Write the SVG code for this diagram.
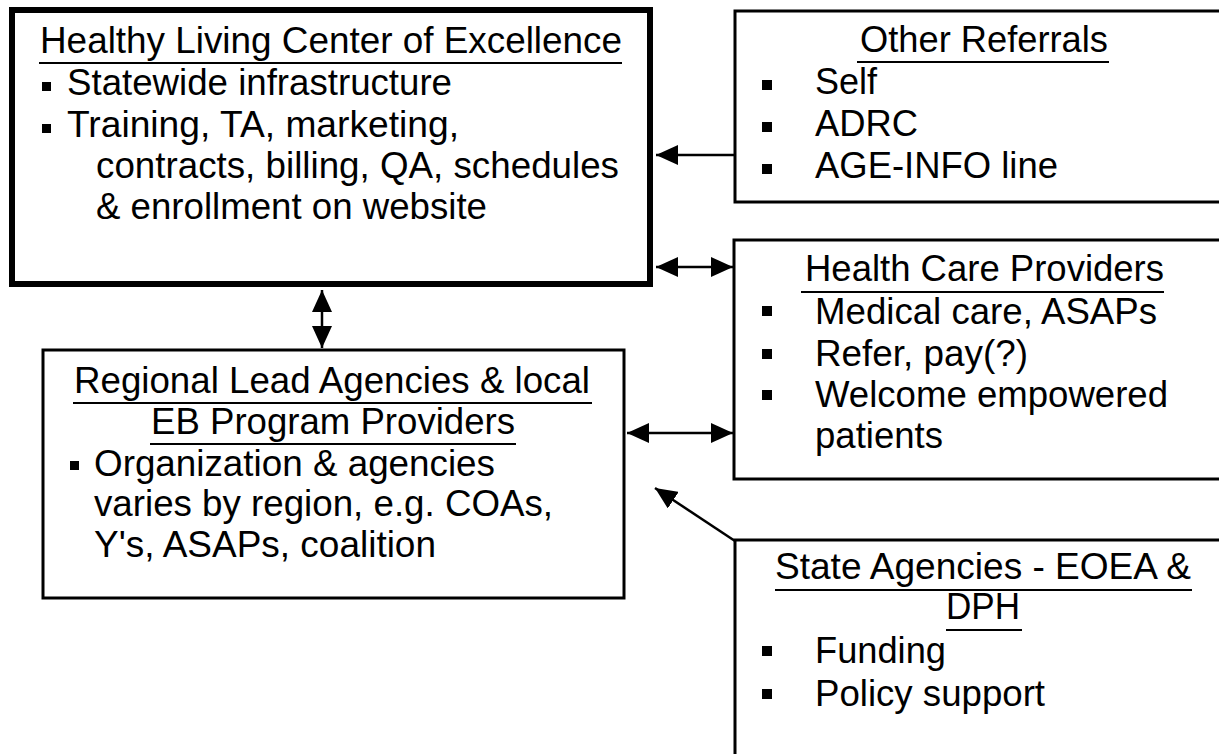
<svg xmlns="http://www.w3.org/2000/svg" width="1219" height="754" viewBox="0 0 1219 754">
<style>
.t{font-family:"Liberation Sans",Arial,sans-serif;font-size:36px;fill:#000}
.box{fill:#fff;stroke:#000;stroke-width:3}
.thick{fill:#fff;stroke:#000;stroke-width:6}
.ul{stroke:#000;stroke-width:2.2}
.b{fill:#000}
.c{stroke:#000;stroke-width:2.5;fill:none}
</style>
<defs>
<marker id="ah" viewBox="0 0 22 20" refX="22" refY="10" markerWidth="22" markerHeight="20" markerUnits="userSpaceOnUse" orient="auto-start-reverse">
<path d="M0,0 L22,10 L0,20 z" fill="#000"/>
</marker>
</defs>
<rect width="1219" height="754" fill="#fff"/>
<g id="healthy-living">
<rect class="thick" x="12" y="10" width="638" height="274"/>
<text class="t" x="40" y="53" textLength="582" lengthAdjust="spacingAndGlyphs">Healthy Living Center of Excellence</text>
<line class="ul" x1="39" y1="63" x2="622" y2="63"/>
<rect class="b" x="42" y="82" width="9" height="9"/>
<text class="t" x="67" y="95" textLength="385" lengthAdjust="spacingAndGlyphs">Statewide infrastructure</text>
<rect class="b" x="42" y="124" width="9" height="9"/>
<text class="t" x="67" y="137" textLength="392" lengthAdjust="spacingAndGlyphs">Training, TA, marketing,</text>
<text class="t" x="96" y="178" textLength="523" lengthAdjust="spacingAndGlyphs">contracts, billing, QA, schedules</text>
<text class="t" x="96" y="219" textLength="391" lengthAdjust="spacingAndGlyphs">&amp; enrollment on website</text>
</g>
<g id="other-referrals">
<rect class="box" x="735" y="11" width="500" height="191"/>
<text class="t" x="860" y="52" textLength="248" lengthAdjust="spacingAndGlyphs">Other Referrals</text>
<line class="ul" x1="857" y1="62" x2="1109" y2="62"/>
<rect class="b" x="762" y="80" width="10" height="10"/>
<text class="t" x="815" y="94" textLength="62" lengthAdjust="spacingAndGlyphs">Self</text>
<rect class="b" x="762" y="122" width="10" height="10"/>
<text class="t" x="815" y="136" textLength="103" lengthAdjust="spacingAndGlyphs">ADRC</text>
<rect class="b" x="762" y="164" width="10" height="10"/>
<text class="t" x="815" y="178" textLength="243" lengthAdjust="spacingAndGlyphs">AGE-INFO line</text>
</g>
<g id="health-care-providers">
<rect class="box" x="734" y="240" width="500" height="239"/>
<text class="t" x="805" y="281" textLength="359" lengthAdjust="spacingAndGlyphs">Health Care Providers</text>
<line class="ul" x1="801" y1="292" x2="1164" y2="292"/>
<rect class="b" x="762" y="306" width="10" height="10"/>
<text class="t" x="815" y="324" textLength="342" lengthAdjust="spacingAndGlyphs">Medical care, ASAPs</text>
<rect class="b" x="762" y="349" width="10" height="10"/>
<text class="t" x="815" y="366" textLength="213" lengthAdjust="spacingAndGlyphs">Refer, pay(?)</text>
<rect class="b" x="762" y="390" width="10" height="10"/>
<text class="t" x="815" y="407" textLength="353" lengthAdjust="spacingAndGlyphs">Welcome empowered</text>
<text class="t" x="815" y="448" textLength="128" lengthAdjust="spacingAndGlyphs">patients</text>
</g>
<g id="regional-lead">
<rect class="box" x="43" y="350" width="581" height="248"/>
<text class="t" x="74" y="393" textLength="516" lengthAdjust="spacingAndGlyphs">Regional Lead Agencies &amp; local</text>
<line class="ul" x1="73" y1="403" x2="592" y2="403"/>
<text class="t" x="151" y="434" textLength="364" lengthAdjust="spacingAndGlyphs">EB Program Providers</text>
<line class="ul" x1="150" y1="444" x2="516" y2="444"/>
<rect class="b" x="70" y="461" width="9" height="9"/>
<text class="t" x="94" y="476" textLength="401" lengthAdjust="spacingAndGlyphs">Organization &amp; agencies</text>
<text class="t" x="94" y="516" textLength="459" lengthAdjust="spacingAndGlyphs">varies by region, e.g. COAs,</text>
<text class="t" x="94" y="557" textLength="342" lengthAdjust="spacingAndGlyphs">Y's, ASAPs, coalition</text>
</g>
<g id="state-agencies">
<rect class="box" x="735" y="540" width="500" height="260"/>
<text class="t" x="775" y="579" textLength="416" lengthAdjust="spacingAndGlyphs">State Agencies - EOEA &amp;</text>
<line class="ul" x1="775" y1="590" x2="1192" y2="590"/>
<text class="t" x="946" y="619" textLength="74" lengthAdjust="spacingAndGlyphs">DPH</text>
<line class="ul" x1="946" y1="630" x2="1022" y2="630"/>
<rect class="b" x="762" y="646" width="10" height="10"/>
<text class="t" x="815" y="663" textLength="131" lengthAdjust="spacingAndGlyphs">Funding</text>
<rect class="b" x="762" y="689" width="10" height="10"/>
<text class="t" x="815" y="706" textLength="230" lengthAdjust="spacingAndGlyphs">Policy support</text>
</g>
<g id="connectors">
<line class="c" x1="735" y1="155" x2="656" y2="155" marker-end="url(#ah)"/>
<line class="c" x1="656" y1="267" x2="733" y2="267" marker-start="url(#ah)" marker-end="url(#ah)"/>
<line class="c" x1="322" y1="290" x2="322" y2="348" marker-start="url(#ah)" marker-end="url(#ah)"/>
<line class="c" x1="627" y1="433" x2="733" y2="433" marker-start="url(#ah)" marker-end="url(#ah)"/>
<line class="c" x1="735" y1="541" x2="655" y2="488" marker-end="url(#ah)"/>
</g>
</svg>
